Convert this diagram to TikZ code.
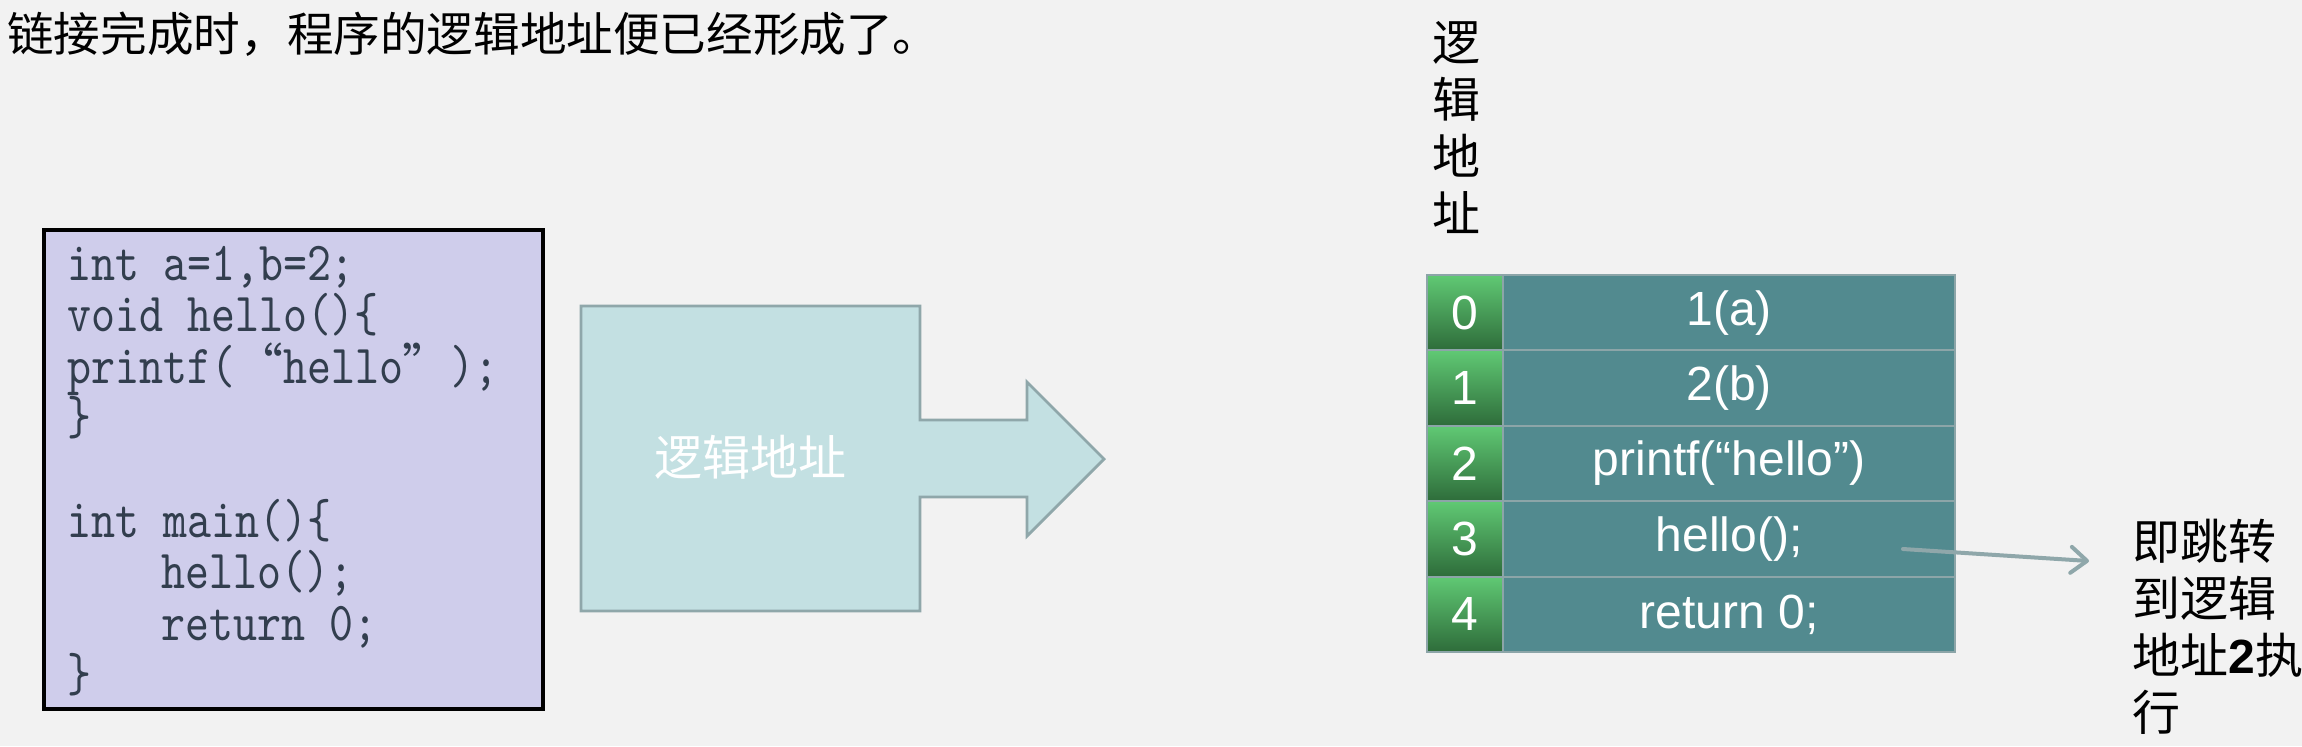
\documentclass[tikz,border=0pt]{standalone}
\usepackage{fontspec}
\setmainfont{Liberation Sans}
\newfontfamily\cjk{Noto Sans CJK SC}
\newfontfamily\codefont[FakeStretch=0.83]{lmmono10-regular.otf}
\usetikzlibrary{arrows.meta}
\definecolor{bg}{HTML}{F2F2F2}
\definecolor{codefill}{HTML}{CFCDEB}
\definecolor{codetext}{HTML}{323E4E}
\definecolor{arrfill}{HTML}{C3E0E2}
\definecolor{arrdraw}{HTML}{8FA7AA}
\definecolor{gridc}{HTML}{8CA5A8}
\definecolor{valfill}{HTML}{528A8F}
\definecolor{greentop}{HTML}{60C974}
\definecolor{greenbot}{HTML}{2E6C3A}
\begin{document}
\begin{tikzpicture}[x=0.5pt,y=-0.5pt,
  cjktext/.style={font=\cjk\fontsize{24}{28.5}\selectfont, inner sep=0pt},
  codebox/.style={draw=black, line width=1.6pt, fill=codefill, minimum width=249.5pt, minimum height=239.5pt, inner sep=0pt},
  codeline/.style={anchor=base west, inner sep=0pt, text=codetext, font=\codefont\fontsize{27.5}{30}\selectfont},
  arrowshape/.style={draw=arrdraw, line width=1.4pt, fill=arrfill},
  numcell/.style={draw=gridc, line width=1pt, top color=greentop, bottom color=greenbot, minimum width=38pt, minimum height=37.7pt, inner sep=0pt, text=white, font=\fontsize{24}{28}\selectfont},
  valcell/.style={draw=gridc, line width=1pt, fill=valfill, minimum width=226pt, minimum height=37.7pt, inner sep=0pt, text=white, font=\fontsize{24}{28}\selectfont},
  jump/.style={draw=arrdraw, line width=2pt, line cap=round, -{Straight Barb[length=8pt,width=13pt,round]}}
]
\path[use as bounding box, fill=bg] (0,0) rectangle (2302,746);

% title
\node[cjktext, anchor=west, font=\cjk\fontsize{23.3}{28}\selectfont] (title) at (7,34) {链接完成时，程序的逻辑地址便已经形成了。};

% code box
\node[codebox] (code) at (293.5,469.5) {};
\node[codeline] (c1) at (67,280) {int a=1,b=2;};
\node[codeline] (c2) at (67,331) {void hello()\{};
\node[codeline] (c3) at (67,383) {printf({\cjk\fontsize{24}{28}\selectfont “}hello{\cjk\fontsize{24}{28}\selectfont ”});};
\node[codeline] (c4) at (67,434) {\}};
\node[codeline] (c5) at (67,537) {int main()\{};
\node[codeline] (c6) at (161,588) {hello();};
\node[codeline] (c7) at (161,640) {return 0;};
\node[codeline] (c8) at (67,691) {\}};

% big arrow
\draw[arrowshape] (581,306) -- (920,306) -- (920,420) -- (1027,420) -- (1027,382) -- (1104,459) -- (1027,536) -- (1027,497) -- (920,497) -- (920,611) -- (581,611) -- cycle;
\node[cjktext, text=white] (lbl) at (750,457) {逻辑地址};

% vertical heading
\node[cjktext, align=center] (vt) at (1456,128) {逻\\辑\\地\\址};

% table
\node[numcell] (n0) at (1465,312.7) {0};
\node[valcell] (v0) at (1729,312.7) {1(a)};
\node[numcell] (n1) at (1465,388.1) {1};
\node[valcell] (v1) at (1729,388.1) {2(b)};
\node[numcell] (n2) at (1465,463.5) {2};
\node[valcell] (v2) at (1729,463.5) {printf(“hello”)};
\node[numcell] (n3) at (1465,538.9) {3};
\node[valcell] (v3) at (1729,538.9) {hello();};
\node[numcell] (n4) at (1465,614.3) {4};
\node[valcell] (v4) at (1729,614.3) {return 0;};

% note
\node[cjktext, align=left, anchor=west] (note) at (2132,627) {即跳转\\到逻辑\\地址{\normalfont\bfseries 2}执\\行};
\coordinate (jstart) at (1903,549);
\coordinate (jend) at (2089,561);
\draw[jump] (jstart) -- (jend);
\end{tikzpicture}
\end{document}
